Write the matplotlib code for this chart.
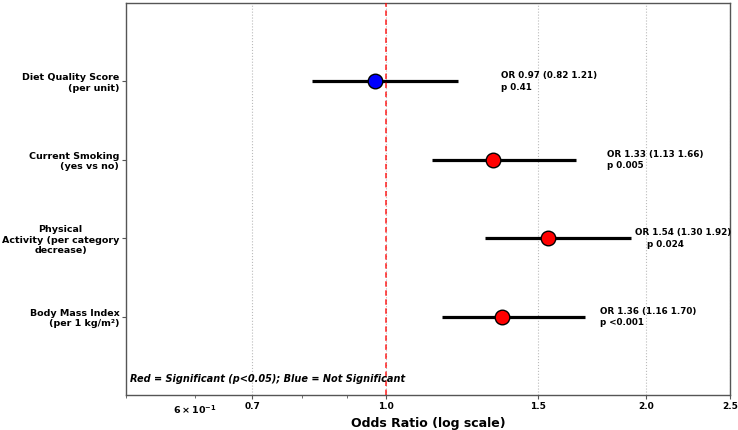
import matplotlib
matplotlib.use("Agg")
import matplotlib.pyplot as plt
import numpy as np

labels = ["Diet Quality Score\n(per unit)", "Current Smoking\n(yes vs no)",
          "Physical\nActivity (per category\ndecrease)", "Body Mass Index\n(per 1 kg/m²)"]
odds = [0.97, 1.33, 1.54, 1.36]
lower = [0.82, 1.13, 1.30, 1.16]
upper = [1.21, 1.66, 1.92, 1.70]
pvals = ["0.41", "0.005", "0.024", "<0.001"]
significant = [False, True, True, True]
ypos = [4, 3, 2, 1]
xticks = [0.7, 1.0, 1.5, 2.0, 2.5]
xticklabels = ["0.7", "1.0", "1.5", "2.0", "2.5"]
ann_x = [1.357, 1.80, 1.94, 1.77]

plt.rcParams['font.family'] = ['DejaVu Sans']
plt.rcParams['font.weight'] = 'bold'
plt.rcParams['mathtext.default'] = 'bf'
fig = plt.figure(figsize=(7.38, 4.30), dpi=100)
ax = fig.add_axes([0.171, 0.081, 0.818, 0.912])
ax.set_xscale('log')

for y, o, lo, hi, sig in zip(ypos, odds, lower, upper, significant):
    ax.plot([lo, hi], [y, y], color='black', lw=2.3, solid_capstyle='butt', zorder=2)
    ax.plot([o], [y], 'o', color='red' if sig else 'blue', ms=10.5,
            mec='black', mew=1.0, zorder=4)

ax.axvline(1.0, color='red', ls=(0, (3, 2)), lw=1.3, alpha=0.75, zorder=3)

for i, (y, o, lo, hi, p) in enumerate(zip(ypos, odds, lower, upper, pvals)):
    if i == 2:
        txt = f"OR {o:.2f} ({lo:.2f} {hi:.2f})\n    p {p}"
    else:
        txt = f"OR {o:.2f} ({lo:.2f} {hi:.2f})\np {p}"
    ax.text(ann_x[i], y, txt, fontsize=6.3, fontweight='bold', ha='left',
            va='center', linespacing=1.35)

ax.text(0.505, 0.2, "Red = Significant (p<0.05); Blue = Not Significant",
        fontsize=7, fontweight='bold', style='italic', ha='left', va='center')

ax.set_xlim(0.5, 2.5)
ax.set_ylim(0, 5)
ax.set_xticks(xticks)
ax.set_xticklabels(xticklabels, fontsize=6.5, fontweight='bold')
ax.tick_params(axis='x', which='minor', labelsize=6.8)
ax.set_yticks(ypos)
ax.set_yticklabels(labels, fontsize=6.8, fontweight='bold')
for t in ax.get_yticklabels():
    if t.get_text().startswith("Physical"):
        t.set_multialignment('center')
ax.set_xlabel("Odds Ratio (log scale)", fontsize=9, fontweight='bold', labelpad=1)
ax.grid(axis='x', which='major', color='#bbbbbb', ls=':', lw=0.8)
for s in ax.spines.values():
    s.set_color('#555555')
    s.set_linewidth(1.0)
ax.tick_params(axis='both', which='major', length=3, color='#555555', pad=2)
ax.tick_params(axis='x', which='minor', length=2, color='#555555', pad=4)

fig.savefig("out.png", dpi=100)
